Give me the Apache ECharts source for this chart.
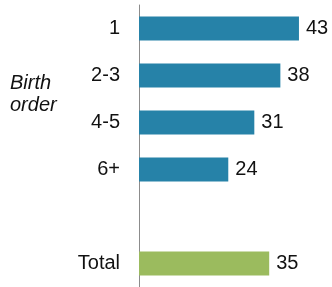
<!DOCTYPE html>
<html>
<head>
<meta charset="utf-8">
<script src="https://cdn.jsdelivr.net/npm/echarts@6/dist/echarts.min.js"></script>
<style>html,body{margin:0;padding:0;background:#fff}#c{width:332px;height:287px}</style>
</head>
<body>
<div id="c"></div>
<script>
const categories = ['1', '2-3', '4-5', '6+', '', 'Total'];
const values = [43, 38, 31, 24, null, 35];
const colors = ['#2682a8', '#2682a8', '#2682a8', '#2682a8', '#2682a8', '#9bbb5e'];
const groupLabel = 'Birth\norder';

const chart = echarts.init(document.getElementById('c'));
chart.setOption({
  animation: false,
  grid: { left: 139, right: 7, top: 5, bottom: -4, containLabel: false },
  xAxis: { type: 'value', min: 0, max: 50, show: false },
  yAxis: {
    type: 'category', data: categories, inverse: true,
    axisLine: { show: true, lineStyle: { color: '#8c8c8c', width: 1 } },
    axisTick: { show: false },
    axisLabel: { margin: 19, fontSize: 20, color: '#111', padding: [5, 0, 0, 0], fontFamily: 'Liberation Sans, Arial, sans-serif' }
  },
  graphic: [{
    type: 'text', left: 10, top: 72,
    style: { text: groupLabel, fontSize: 20, fontStyle: 'italic', lineHeight: 22, fill: '#111', fontFamily: 'Liberation Sans, Arial, sans-serif' }
  }],
  series: [{
    type: 'bar',
    barWidth: 24,
    data: values.map((v, i) => ({ value: v, itemStyle: { color: colors[i] } })),
    label: { show: true, position: 'right', distance: 7, fontSize: 20, color: '#111', padding: [5, 0, 0, 0], fontFamily: 'Liberation Sans, Arial, sans-serif' }
  }]
});
</script>
</body>
</html>
